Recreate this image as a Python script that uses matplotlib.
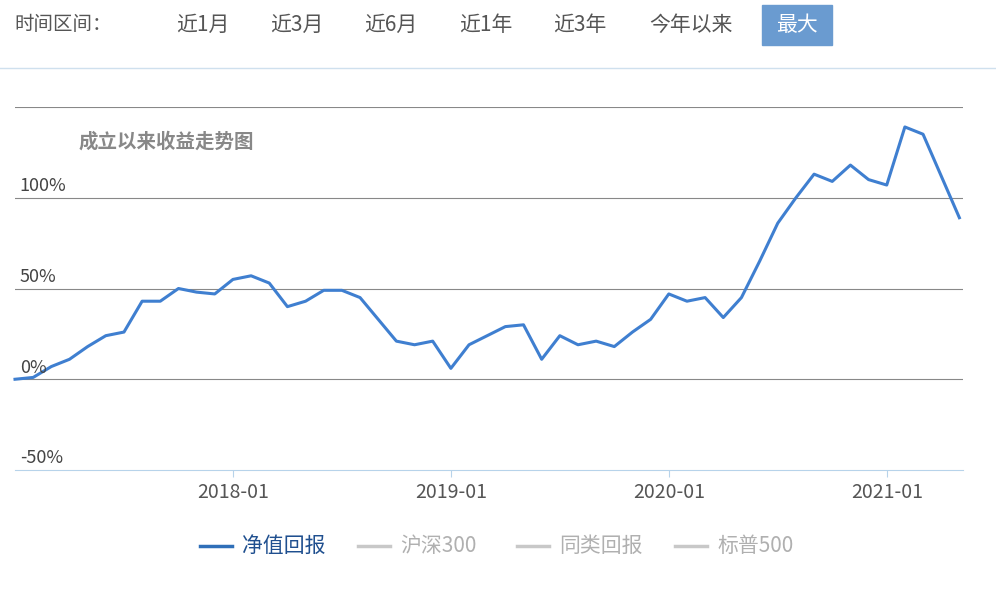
import matplotlib
matplotlib.use("Agg")
import matplotlib.pyplot as plt
import numpy as np

plt.rcParams['font.family'] = ['Noto Sans CJK SC', 'DejaVu Sans']

values = [0, 1, 7, 11, 18, 24, 26, 43, 43, 50, 48, 47, 55, 57, 53, 40, 43, 49, 49, 45,
          33, 21, 19, 21, 6, 19, 24, 29, 30, 11, 24, 19, 21, 18, 26, 33, 47, 43, 45, 34,
          45, 65, 86, 100, 113, 109, 118, 110, 107, 139, 135, 112, 89]
months = np.arange(len(values))  # months since 2017-01
xtick_pos = [12, 24, 36, 48]
xtick_labels = ['2018-01', '2019-01', '2020-01', '2021-01']
ytick_vals = [100, 50, 0, -50]
ytick_labels = ['100%', '50%', '0%', '-50%']
buttons = ['近1月', '近3月', '近6月', '近1年', '近3年', '今年以来', '最大']
legend_names = ['净值回报', '沪深300', '同类回报', '标普500']

W, H = 996, 590
fig = plt.figure(figsize=(9.96, 5.9), dpi=100)
ax = fig.add_axes([15/W, (H-470)/H, (963-15)/W, 363/H])
ax.plot(months, values, color='#3f7fd0', lw=2.2, clip_on=False, zorder=3)
ax.set_xlim(0, 52.2)
ax.set_ylim(-50, 150)
for v in [150, 100, 50, 0]:
    ax.axhline(v, color='#888888', lw=0.8, zorder=1)
for s in ['top', 'right', 'left']:
    ax.spines[s].set_visible(False)
ax.spines['bottom'].set_color('#b7d3ea')
ax.set_yticks([])
ax.set_xticks(xtick_pos)
ax.set_xticklabels(xtick_labels, fontsize=14, color='#555555')
ax.tick_params(axis='x', length=5, color='#b7d3ea', pad=4)
for v, l in zip(ytick_vals, ytick_labels):
    ax.text(0.005, v + 1.5, l, transform=ax.get_yaxis_transform(), fontsize=13,
            color='#444444', va='bottom', ha='left')
ax.text(0.067, 0.905, '成立以来收益走势图', transform=ax.transAxes, fontsize=14,
        color='#888888', weight='bold', va='center')

# top bar
fig.text(14/W, 1-25/H, '时间区间：', fontsize=14, color='#555555', va='center')
bx = [203, 297, 391, 486, 580, 691, 797]
for x, b in zip(bx, buttons):
    if b == '最大':
        fig.patches.append(plt.Rectangle(((x-35)/W, 1-45/H), 70/W, 40/H,
                                         transform=fig.transFigure, color='#6a9bd0'))
        fig.text(x/W, 1-25/H, b, fontsize=15, color='white', ha='center', va='center')
    else:
        fig.text(x/W, 1-25/H, b, fontsize=15, color='#555555', ha='center', va='center')
fig.add_artist(plt.Line2D([0, 1], [1-68/H, 1-68/H], color='#cfe0ee', lw=1,
                          transform=fig.transFigure))

# legend
lx = [200, 358, 517, 675]
for i, (x, n) in enumerate(zip(lx, legend_names)):
    c = '#2f6fb8' if i == 0 else '#c8c8c8'
    tc = '#1f4f8f' if i == 0 else '#b0b0b0'
    fig.add_artist(plt.Line2D([x/W, (x+32)/W], [1-546/H]*2, color=c, lw=2.5,
                              transform=fig.transFigure))
    fig.text((x+42)/W, 1-546/H, n, fontsize=15, color=tc, va='center')

fig.savefig('out.png', dpi=100, facecolor='white')
